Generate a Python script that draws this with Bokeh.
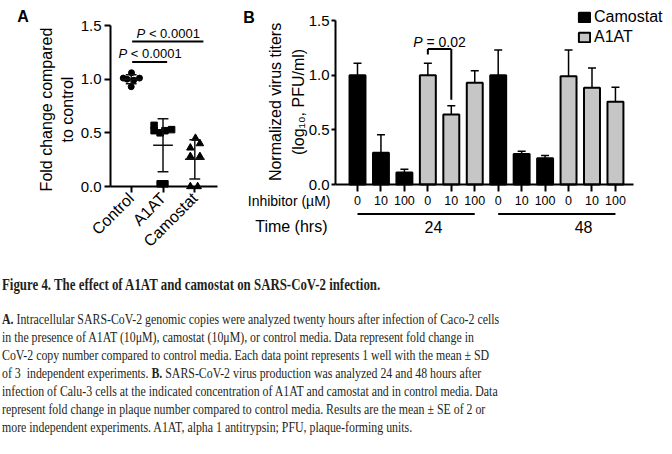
import numpy as np
from bokeh.plotting import figure
from bokeh.models import (Range1d, FixedTicker, NumeralTickFormatter, Label, Legend, LegendItem,
                          Whisker, TeeHead, ColumnDataSource, Div)
from bokeh.layouts import column, row
from bokeh.core.properties import value
from bokeh.embed import file_html
from bokeh.resources import INLINE

# ---------------- data: panel A ----------------
groups_a = ["Control", "A1AT", "Camostat"]
control_fold = [1.06, 1.01, 1.01, 1.00, 0.99, 0.93]
a1at_fold = [0.57, 0.52, 0.50, 0.52, 0.53, 0.025, 0.025]
camostat_fold = [0.45, 0.36, 0.40, 0.28, 0.28, 0.0, 0.0]
a_yticks = [0.0, 0.5, 1.0, 1.5]
a_comparisons = [("Control", "A1AT"), ("Control", "Camostat")]
a_pvalues = ["< 0.0001", "< 0.0001"]
a_ytitle = ["Fold change compared", "to control"]

# ---------------- data: panel B ----------------
times = ["24", "48"]
inhibitors = ["Camostat", "A1AT"]
concentrations = ["0", "10", "100"]
camostat_24h = [1.00, 0.29, 0.11]
camostat_24h_se = [0.11, 0.165, 0.03]
a1at_24h = [1.00, 0.64, 0.93]
a1at_24h_se = [0.11, 0.08, 0.11]
camostat_48h = [1.00, 0.28, 0.24]
camostat_48h_se = [0.23, 0.025, 0.025]
a1at_48h = [0.99, 0.885, 0.757]
a1at_48h_se = [0.24, 0.18, 0.133]
b_yticks = [0.0, 0.5, 1.0, 1.5]
b_comparison = (("24", "A1AT", "0"), ("24", "A1AT", "10"))
b_pvalue = "= 0.02"
b_ytitle = ["Normalized virus titers", "(log\u2081\u2080, PFU/ml)"]

# ---------------- caption ----------------
caption_title = "Figure 4. The effect of A1AT and camostat on SARS-CoV-2 infection."
caption_lines = [
    "<b>A.</b> Intracellular SARS-CoV-2 genomic copies were analyzed twenty hours after infection of Caco-2 cells",
    "in the presence of A1AT (10\u03bcM), camostat (10\u03bcM), or control media. Data represent fold change in",
    "CoV-2 copy number compared to control media. Each data point represents 1 well with the mean \u00b1 SD",
    "of 3&nbsp; independent experiments. <b>B.</b> SARS-CoV-2 virus production was analyzed 24 and 48 hours after",
    "infection of Calu-3 cells at the indicated concentration of A1AT and camostat and in control media. Data",
    "represent fold change in plaque number compared to control media. Results are the mean \u00b1 SE of 2 or",
    "more independent experiments. A1AT, alpha 1 antitrypsin; PFU, plaque-forming units.",
]

# ---------------- styles ----------------
FONT = "Liberation Sans"
jitter_a = [
    [0.01, -0.25, 0.26, -0.13, 0.08, 0.0],
    [-0.28, -0.28, -0.09, 0.06, 0.27, -0.09, 0.06],
    [0.02, -0.14, 0.16, -0.14, 0.16, -0.14, 0.09],
]
markers_a = ["circle", "square", "triangle"]
sizes_a = [6, 6.5, 7.5]


def style_axis(ax, tick_font, tick_out, standoff):
    ax.axis_line_width = 2
    ax.axis_line_color = "black"
    ax.major_tick_line_width = 2
    ax.major_tick_line_color = "black"
    ax.major_tick_out = tick_out
    ax.major_tick_in = 0
    ax.minor_tick_line_color = None
    ax.major_label_text_font = FONT
    ax.major_label_text_font_size = tick_font
    ax.major_label_text_color = "black"
    ax.major_label_standoff = standoff


def txt(p, x, y, s, size, align="center", style="normal", angle=0.0, x_offset=0):
    p.text(x=[x], y=[y], text=[s], angle=angle, x_offset=x_offset, text_align=align,
           text_baseline="middle", text_font=value(FONT), text_font_size=size,
           text_font_style=style, text_color="black")


# ================= Panel A =================
pa = figure(width=225, height=262, x_range=Range1d(-3.110, 3.965), y_range=Range1d(-0.708, 1.733),
            output_backend="svg", toolbar_location=None, min_border=0)
pa.grid.visible = False
pa.outline_line_color = None
cat_x = {g: i + 1 for i, g in enumerate(groups_a)}

pa.xaxis.fixed_location = 0
pa.xaxis.ticker = FixedTicker(ticks=list(cat_x.values()))
pa.xaxis.major_label_overrides = {v: k for k, v in cat_x.items()}
pa.xaxis.major_label_orientation = np.pi / 4
pa.xaxis.bounds = (0.349, 3.714)
style_axis(pa.xaxis[0], "16px", 6, 3)
pa.yaxis.fixed_location = 0.349
pa.yaxis.ticker = FixedTicker(ticks=a_yticks)
pa.yaxis.formatter = NumeralTickFormatter(format="0.0")
pa.yaxis.bounds = (0, 1.5)
style_axis(pa.yaxis[0], "15px", 6, 3)

for line_text, lx in zip(a_ytitle, [-1.664, -1.003]):
    txt(pa, lx, 0.717, line_text, "16px", angle=np.pi / 2)

for gi, (g, vals) in enumerate(zip(groups_a, [control_fold, a1at_fold, camostat_fold])):
    xc = cat_x[g]
    xs = [xc + j for j in jitter_a[gi]]
    pa.scatter(x=xs, y=vals, marker=markers_a[gi], size=sizes_a[gi], color="black")
    m = float(np.mean(vals))
    s = float(np.std(vals, ddof=1))
    pa.segment(x0=[xc - 0.31, xc, xc - 0.17, xc - 0.17], x1=[xc + 0.31, xc, xc + 0.17, xc + 0.17],
               y0=[m, m - s, m - s, m + s], y1=[m, m + s, m - s, m + s],
               line_color="#111111", line_width=1.5)

bracket_y_a = [1.16, 1.35]
bracket_x0_a = [0.03, 0.03]
bracket_x1_a = [0.13, 0.27]
for (g0, g1), pv, by, dx0, dx1 in zip(a_comparisons, a_pvalues, bracket_y_a, bracket_x0_a, bracket_x1_a):
    x0 = cat_x[g0] + dx0
    x1 = cat_x[g1] + dx1
    pa.segment(x0=[x0], x1=[x1], y0=[by], y1=[by], line_color="black", line_width=2)
    mid = (x0 + x1) / 2
    txt(pa, mid, by + 0.075, "P", "13px", align="right", style="italic", x_offset=-22.5)
    txt(pa, mid, by + 0.075, "\u00a0" + pv, "13px", align="left", x_offset=-22.5)

pa.add_layout(Label(x=-2.585, y=1.584, text="A", text_font=FONT, text_font_size="16px",
                    text_font_style="bold", text_baseline="middle", text_color="black"))

# ================= Panel B =================
pb = figure(width=447, height=262, x_range=Range1d(-5.629, 13.433), y_range=Range1d(-0.713, 1.683),
            output_backend="svg", toolbar_location=None, min_border=0)
pb.grid.visible = False
pb.outline_line_color = None

series = {
    ("24", "Camostat"): (camostat_24h, camostat_24h_se),
    ("24", "A1AT"): (a1at_24h, a1at_24h_se),
    ("48", "Camostat"): (camostat_48h, camostat_48h_se),
    ("48", "A1AT"): (a1at_48h, a1at_48h_se),
}
rows = {"x": [], "top": [], "err_top": [], "inh": [], "time": [], "conc": []}
pos = {}
i = 0
for t in times:
    for inh in inhibitors:
        vals, errs = series[(t, inh)]
        for c, v, e in zip(concentrations, vals, errs):
            rows["x"].append(i)
            rows["top"].append(v)
            rows["err_top"].append(v + e)
            rows["inh"].append(inh)
            rows["time"].append(t)
            rows["conc"].append(c)
            pos[(t, inh, c)] = (i, v + e)
            i += 1
n_bars = i

fills = {"Camostat": "black", "A1AT": "#c6c6c6"}
bar_renderers = {}
for inh in inhibitors:
    idx = [k for k in range(n_bars) if rows["inh"][k] == inh]
    src = ColumnDataSource({key: [rows[key][k] for k in idx] for key in rows})
    bar_renderers[inh] = pb.vbar(x="x", top="top", width=0.68, source=src, fill_color=fills[inh],
                                 line_color="black", line_width=2)

err_src = ColumnDataSource(rows)
pb.add_layout(Whisker(source=err_src, base="x", lower="top", upper="err_top", dimension="height",
                      line_color="black", line_width=1.5, lower_head=None,
                      upper_head=TeeHead(size=8, line_width=1.5, line_color="black")))

pb.xaxis.fixed_location = 0
pb.xaxis.ticker = FixedTicker(ticks=list(range(n_bars)))
pb.xaxis.major_label_overrides = {k: rows["conc"][k] for k in range(n_bars)}
pb.xaxis.bounds = (-0.938, 11.77)
style_axis(pb.xaxis[0], "12.5px", 7, 4)
pb.yaxis.fixed_location = -0.938
pb.yaxis.ticker = FixedTicker(ticks=b_yticks)
pb.yaxis.formatter = NumeralTickFormatter(format="0.0")
pb.yaxis.bounds = (0, 1.5)
style_axis(pb.yaxis[0], "15px", 4, 2)

for line_text, lx in zip(b_ytitle, [-3.497, -2.516]):
    txt(pb, lx, 0.755, line_text, "16px", angle=np.pi / 2)

# significance bracket
(xa, ea), (xb, eb) = pos[b_comparison[0]], pos[b_comparison[1]]
top_b = 1.24
pb.segment(x0=[xa, xa, xb], x1=[xb, xa, xb], y0=[top_b, top_b, top_b],
           y1=[top_b, ea + 0.08, eb + 0.055], line_color="black", line_width=2)
mid_b = (xa + xb) / 2
txt(pb, mid_b, top_b + 0.06, "P", "14px", align="right", style="italic", x_offset=-17)
txt(pb, mid_b, top_b + 0.06, "\u00a0" + b_pvalue, "14px", align="left", x_offset=-17)

# legend
legend = Legend(items=[LegendItem(label=inh, renderers=[bar_renderers[inh]]) for inh in inhibitors],
                location=(352, 216), label_text_font=FONT, label_text_font_size="16px",
                label_text_color="black", glyph_width=14, glyph_height=12, label_standoff=3,
                spacing=2, padding=0, margin=0, border_line_color=None, background_fill_alpha=0,
                label_height=16)
pb.add_layout(legend)

# annotations below axis
txt(pb, -1.151, -0.155, "Inhibitor (\u00b5M)", "14px", align="right")
txt(pb, -1.279, -0.384, "Time (hrs)", "16px", align="right")
grp = {"y": [], "lo": [], "hi": []}
for t in times:
    xs_t = [rows["x"][k] for k in range(n_bars) if rows["time"][k] == t]
    grp["y"].append(-0.27)
    grp["lo"].append(min(xs_t))
    grp["hi"].append(max(xs_t))
pb.segment(x0="lo", x1="hi", y0="y", y1="y", source=ColumnDataSource(grp),
           line_color="black", line_width=2)
time_label_x = [3.24, 9.64]
for t, tx in zip(times, time_label_x):
    txt(pb, tx, -0.384, t, "16px")

pb.add_layout(Label(x=-4.874, y=1.53, text="B", text_font=FONT, text_font_size="16px",
                    text_font_style="bold", text_baseline="middle", text_color="black"))

# ================= Caption =================
html = (
    "<div style=\"font-family:'Liberation Serif',serif;color:#231f20;white-space:nowrap;"
    "transform:translateX(-3px) scaleX(0.79);transform-origin:0 0;width:840px;\">"
    "<div style=\"font-weight:bold;font-size:16.3px;line-height:20px;padding-top:8px;\">"
    + caption_title + "</div>"
    "<div style=\"font-size:15px;line-height:18px;padding-top:15px;\">"
    + "<br>".join(caption_lines) + "</div></div>"
)
caption = Div(text=html, width=672, height=192)

layout = column(row(pa, pb), caption)
open("out.html", "w").write(file_html(layout, INLINE))
